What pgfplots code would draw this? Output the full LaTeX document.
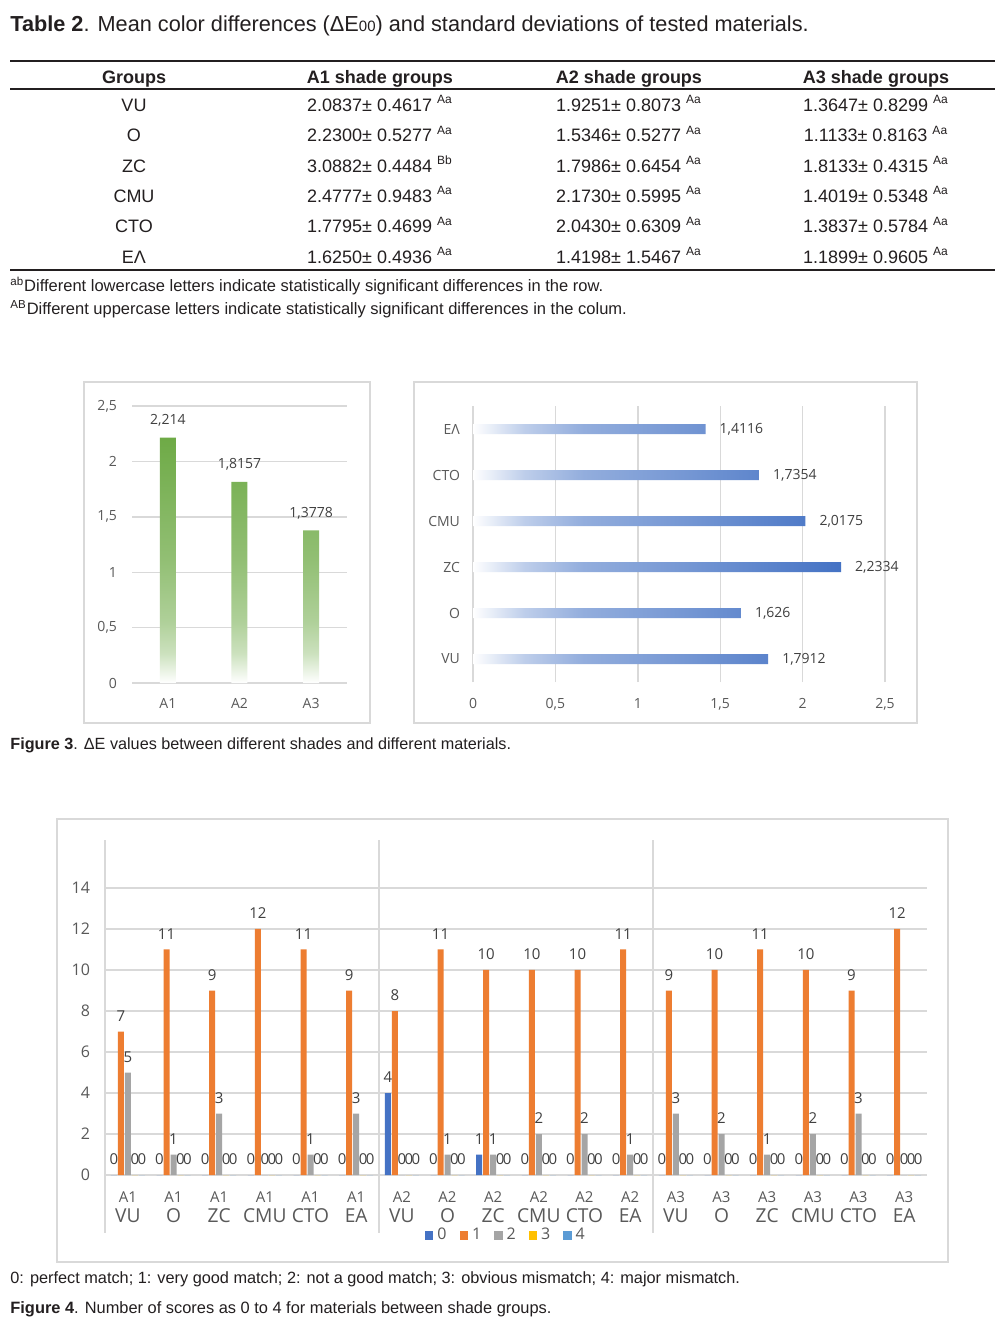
\documentclass[border=0pt]{standalone}
\usepackage{pgfplots}
\pgfplotsset{compat=1.18}
\usepackage{pgfplotstable}
\usepackage{fontspec}
\setmainfont{Liberation Sans}
\newfontfamily\chartfont{Open Sans}
\definecolor{txt}{HTML}{231F20}
\definecolor{cgray}{HTML}{595959}
\definecolor{lblc}{HTML}{404040}
\definecolor{gridc}{HTML}{D9D9D9}
\definecolor{boxc}{HTML}{D9D9D9}
\definecolor{gA}{HTML}{6EAA46}
\definecolor{bA}{HTML}{4472C4}
\definecolor{s0}{HTML}{4472C4}
\definecolor{s1}{HTML}{ED7D31}
\definecolor{s2}{HTML}{A5A5A5}
\definecolor{s3}{HTML}{FFC000}
\definecolor{s4}{HTML}{5B9BD5}

\pgfdeclareverticalshading{greenbar}{100bp}{color(0bp)=(white); color(25bp)=(white); color(31bp)=(gA!35!white); color(37.5bp)=(gA!55!white); color(50bp)=(gA!75!white); color(75bp)=(gA); color(100bp)=(gA)}
\pgfdeclarehorizontalshading{bluebar}{100bp}{color(0bp)=(white); color(25bp)=(white); color(32bp)=(bA!35!white); color(40bp)=(bA!58!white); color(55bp)=(bA!75!white); color(75bp)=(bA); color(100bp)=(bA)}

\pgfplotstableread{
x s0 s1 s2 s3 s4
0 0 7 5 0 0
1 0 11 1 0 0
2 0 9 3 0 0
3 0 12 0 0 0
4 0 11 1 0 0
5 0 9 3 0 0
6 4 8 0 0 0
7 0 11 1 0 0
8 1 10 1 0 0
9 0 10 2 0 0
10 0 10 2 0 0
11 0 11 1 0 0
12 0 9 3 0 0
13 0 10 2 0 0
14 0 11 1 0 0
15 0 10 2 0 0
16 0 9 3 0 0
17 0 12 0 0 0
}\scoretab

\newcommand{\tl}[2]{{\fontsize{7.5}{9}\selectfont #1}\\#2}

\pgfplotsset{
  excel/.style={
    scale only axis, anchor=south west,
    axis line style={draw=none}, tick style={draw=none},
    major grid style={gridc, line width=0.7pt},
    tick label style={font=\chartfont\fontsize{7}{8}\selectfont, text=cgray},
    /pgf/number format/assume math mode=true,
    /pgf/number format/use comma,
    /pgf/number format/precision=4,
  },
}

\begin{document}
\begin{tikzpicture}
\begin{scope}[x=0.5pt,y=-0.5pt]
\path[use as bounding box, fill=white] (0,0) rectangle (1005,1329);
% ---------- Table 2 ----------
\node[anchor=base west, inner sep=0, text=txt] at (10,31) {\fontsize{10.85}{13}\selectfont\textbf{Table 2}. Mean color differences (ΔE{\fontsize{7.5}{9}\selectfont 00}) and standard deviations of tested materials.};
\draw[txt, line width=0.6pt] (10,61) -- (995,61);
\draw[txt, line width=0.8pt] (10,89) -- (995,89);
\draw[txt, line width=0.8pt] (10,270) -- (995,270);
\begin{scope}[every node/.style={anchor=base, inner sep=0, text=txt, font=\fontsize{9}{11}\selectfont}]
\node at (134,83) {\textbf{Groups}};
\node at (380,83) {\textbf{A1 shade groups}};
\node at (629,83) {\textbf{A2 shade groups}};
\node at (876,83) {\textbf{A3 shade groups}};
\foreach \g/\a/\b/\c [count=\i from 0] in {
  VU/2.0837± 0.4617 \textsuperscript{Aa}/1.9251± 0.8073 \textsuperscript{Aa}/1.3647± 0.8299 \textsuperscript{Aa},
  O/2.2300± 0.5277 \textsuperscript{Aa}/1.5346± 0.5277 \textsuperscript{Aa}/1.1133± 0.8163 \textsuperscript{Aa},
  ZC/3.0882± 0.4484 \textsuperscript{Bb}/1.7986± 0.6454 \textsuperscript{Aa}/1.8133± 0.4315 \textsuperscript{Aa},
  CMU/2.4777± 0.9483 \textsuperscript{Aa}/2.1730± 0.5995 \textsuperscript{Aa}/1.4019± 0.5348 \textsuperscript{Aa},
  CTO/1.7795± 0.4699 \textsuperscript{Aa}/2.0430± 0.6309 \textsuperscript{Aa}/1.3837± 0.5784 \textsuperscript{Aa},
  EΛ/1.6250± 0.4936 \textsuperscript{Aa}/1.4198± 1.5467 \textsuperscript{Aa}/1.1899± 0.9605 \textsuperscript{Aa}}{
  \node at (134,{111.5+30.3*\i}) {\g};
  \node at (380,{111.5+30.3*\i}) {\a};
  \node at (629,{111.5+30.3*\i}) {\b};
  \node at (876,{111.5+30.3*\i}) {\c};
}
\end{scope}
\node[anchor=base west, inner sep=0, text=txt, font=\fontsize{8.25}{10}\selectfont] at (10,291) {\textsuperscript{ab}Different lowercase letters indicate statistically significant differences in the row.};
\node[anchor=base west, inner sep=0, text=txt, font=\fontsize{8.25}{10}\selectfont] at (10,314) {\textsuperscript{AB}Different uppercase letters indicate statistically significant differences in the colum.};
% ---------- Figure 3 boxes and caption ----------
\draw[boxc, line width=0.8pt] (84,382) rectangle (370,723);
\draw[boxc, line width=0.8pt] (414,382) rectangle (917,723);
\node[anchor=base west, inner sep=0, text=txt, font=\fontsize{8.1}{10}\selectfont] at (10,749) {\textbf{Figure 3}. ΔE values between different shades and different materials.};
% ---------- Figure 4 box and captions ----------
\draw[boxc, line width=0.8pt] (57,819) rectangle (948,1262);
\node[anchor=base west, inner sep=0, text=txt, font=\fontsize{8.15}{10}\selectfont] at (10,1283) {0: perfect match; 1: very good match; 2: not a good match; 3: obvious mismatch; 4: major mismatch.};
\node[anchor=base west, inner sep=0, text=txt, font=\fontsize{8.2}{10}\selectfont] at (10,1313) {\textbf{Figure 4}. Number of scores as 0 to 4 for materials between shade groups.};
\end{scope}

% ---------- Figure 3 left ----------
\begin{axis}[excel, at={(66pt,-341.5pt)},
  width=107.5pt, height=138.5pt,
  xmin=0.5, xmax=3.5, ymin=0, ymax=2.5,
  xtick={1,2,3}, xticklabels={A1,A2,A3},
  ytick={0,0.5,1,1.5,2,2.5},
  yticklabel style={xshift=-4pt},
  xticklabel style={yshift=-4pt},
  ymajorgrids, clip=false]
\addplot[ybar, bar width=8pt, draw=none, shading=greenbar,
  nodes near coords, nodes near coords style={font=\chartfont\fontsize{7}{8}\selectfont, text=lblc, yshift=2.2pt}]
  coordinates {(1,2.214) (2,1.8157) (3,1.3778)};
\end{axis}

% ---------- Figure 3 right ----------
\begin{axis}[excel, at={(236.5pt,-341pt)},
  width=206pt, height=138pt,
  xmin=0, xmax=2.5, ymin=0.5, ymax=6.5,
  xtick={0,0.5,1,1.5,2,2.5},
  ytick={1,2,3,4,5,6}, yticklabels={VU,O,ZC,CMU,CTO,EΛ},
  yticklabel style={xshift=-3pt},
  xticklabel style={yshift=-4.5pt},
  xmajorgrids, clip=false]
\addplot[xbar, bar width=5pt, draw=none, shading=bluebar,
  nodes near coords, nodes near coords style={font=\chartfont\fontsize{7}{8}\selectfont, text=lblc, xshift=3.5pt}]
  coordinates {(1.7912,1) (1.626,2) (2.2334,3) (2.0175,4) (1.7354,5) (1.4116,6)};
\end{axis}

% ---------- Figure 4 ----------
\begin{axis}[excel, at={(52.5pt,-587.5pt)},
  width=411pt, height=167.5pt,
  xmin=-0.5, xmax=17.5, ymin=0, ymax=16.34,
  ytick={0,2,4,6,8,10,12,14},
  yticklabel style={font=\chartfont\fontsize{8}{9}\selectfont, xshift=-4pt},
  xtick={0,...,17},
  xticklabels={\tl{A1}{VU},\tl{A1}{O},\tl{A1}{ZC},\tl{A1}{CMU},\tl{A1}{CTO},\tl{A1}{EA},
               \tl{A2}{VU},\tl{A2}{O},\tl{A2}{ZC},\tl{A2}{CMU},\tl{A2}{CTO},\tl{A2}{EA},
               \tl{A3}{VU},\tl{A3}{O},\tl{A3}{ZC},\tl{A3}{CMU},\tl{A3}{CTO},\tl{A3}{EA}},
  xticklabel style={align=center, font=\chartfont\fontsize{9.6}{10}\selectfont, text=cgray, yshift=-0.5pt},
  ymajorgrids, clip=false,
  ybar=0.5pt, bar width=3pt,
  nodes near coords, nodes near coords style={font=\chartfont\fontsize{7.5}{8}\selectfont, text=lblc, yshift=1.5pt},
  legend style={at={(0.489,-0.181)}, anchor=center, draw=none, fill=none, legend columns=5,
    font=\chartfont\fontsize{8}{9}\selectfont, text=cgray,
    /tikz/every even column/.append style={column sep=4.5pt}},
  legend image code/.code={\fill[#1] (0pt,-2.1pt) rectangle (4.2pt,2.1pt);},
]
\addplot[fill=s0, draw=none] table[x=x,y=s0]{\scoretab};
\addplot[fill=s1, draw=none] table[x=x,y=s1]{\scoretab};
\addplot[fill=s2, draw=none] table[x=x,y=s2]{\scoretab};
\addplot[fill=s3, draw=none] table[x=x,y=s3]{\scoretab};
\addplot[fill=s4, draw=none] table[x=x,y=s4]{\scoretab};
\legend{0,1,2,3,4}
\draw[gridc, line width=0.7pt] (axis cs:-0.5,16.34) -- (axis cs:-0.5,-2.83);
\draw[gridc, line width=0.7pt] (axis cs:5.5,16.34) -- (axis cs:5.5,-2.83);
\draw[gridc, line width=0.7pt] (axis cs:11.5,16.34) -- (axis cs:11.5,-2.83);
\end{axis}
\end{tikzpicture}
\end{document}
